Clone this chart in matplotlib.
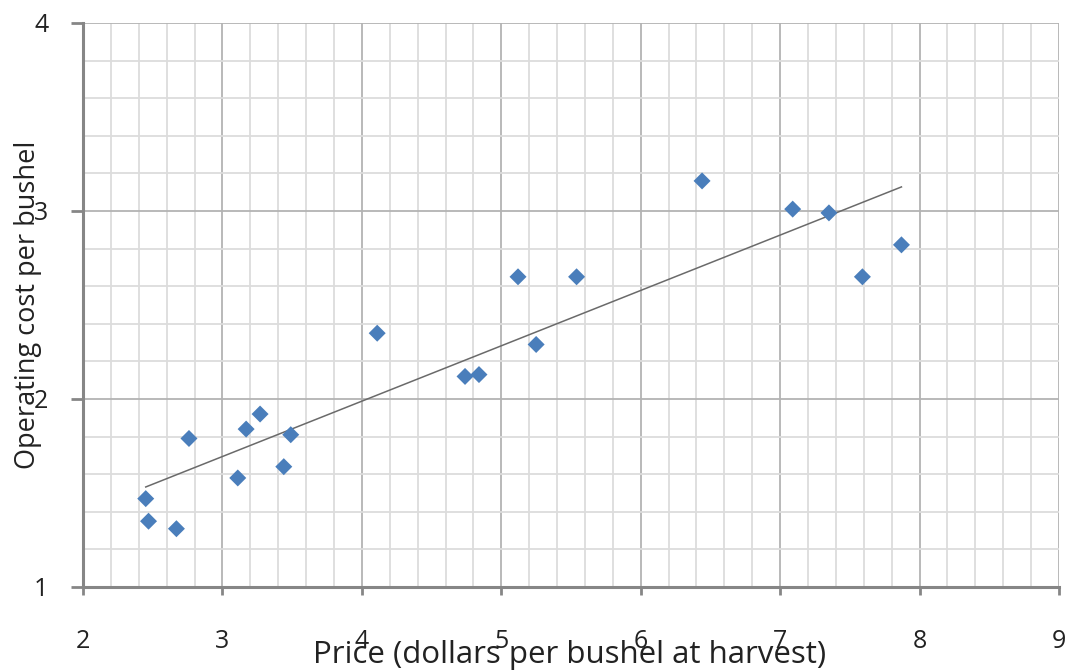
import numpy as np
import matplotlib
matplotlib.use("Agg")
import matplotlib.pyplot as plt
from matplotlib.ticker import MultipleLocator

price = [2.45, 2.47, 2.67, 2.76, 3.11, 3.17, 3.27, 3.44, 3.49, 4.11,
         4.74, 4.84, 5.12, 5.25, 5.54, 6.44, 7.09, 7.35, 7.59, 7.87]
cost = [1.47, 1.35, 1.31, 1.79, 1.58, 1.84, 1.92, 1.64, 1.81, 2.35,
        2.12, 2.13, 2.65, 2.29, 2.65, 3.16, 3.01, 2.99, 2.65, 2.82]
x_ticks = [2, 3, 4, 5, 6, 7, 8, 9]
y_ticks = [1, 2, 3, 4]

plt.rcParams['font.family'] = ['Open Sans', 'DejaVu Sans']

fig = plt.figure(figsize=(10.68, 6.71), dpi=100)
ax = fig.add_axes([83/1068, 1 - 587/671, 976/1068, 564/671])

ax.set_xlim(2, 9)
ax.set_ylim(1, 4)
ax.set_xticks(x_ticks)
ax.set_yticks(y_ticks)
ax.xaxis.set_minor_locator(MultipleLocator(0.2))
ax.yaxis.set_minor_locator(MultipleLocator(0.2))

ax.grid(which='major', color='#b3b3b3', linewidth=1.3, zorder=0)
ax.grid(which='minor', color='#dcdcdc', linewidth=1.3, zorder=0)
ax.set_axisbelow(True)

for s in ['top', 'right']:
    ax.spines[s].set_visible(False)
for s in ['left', 'bottom']:
    ax.spines[s].set_color('#868686')
    ax.spines[s].set_linewidth(2.2)

ax.tick_params(which='major', direction='out', color='#868686', width=2,
               labelsize=18, labelcolor='#222222')
ax.tick_params(axis='y', which='major', length=9, pad=16)
ax.tick_params(axis='x', which='major', length=6, pad=24)
ax.tick_params(which='minor', length=0)

# trendline (linear fit over data range)
coef = np.polyfit(price, cost, 1)
xs = np.array([min(price), max(price)])
ax.plot(xs, np.polyval(coef, xs), color='#6a6a6a', linewidth=1.1, zorder=2)

ax.scatter(price, cost, marker='D', s=75, color='#4a7ebb', edgecolors='none', zorder=3)

ax.set_xlabel('Price (dollars per bushel at harvest)', fontsize=22.5, color='#222222')
ax.set_ylabel('Operating cost per bushel', fontsize=19.5, color='#222222')
ax.xaxis.set_label_coords((570 - 83) / 976, (587 - 663) / 564)
ax.xaxis.label.set_va('baseline')
ax.yaxis.set_label_coords((42 - 83) / 976, 0.5)

fig.savefig('out.png', dpi=100)
